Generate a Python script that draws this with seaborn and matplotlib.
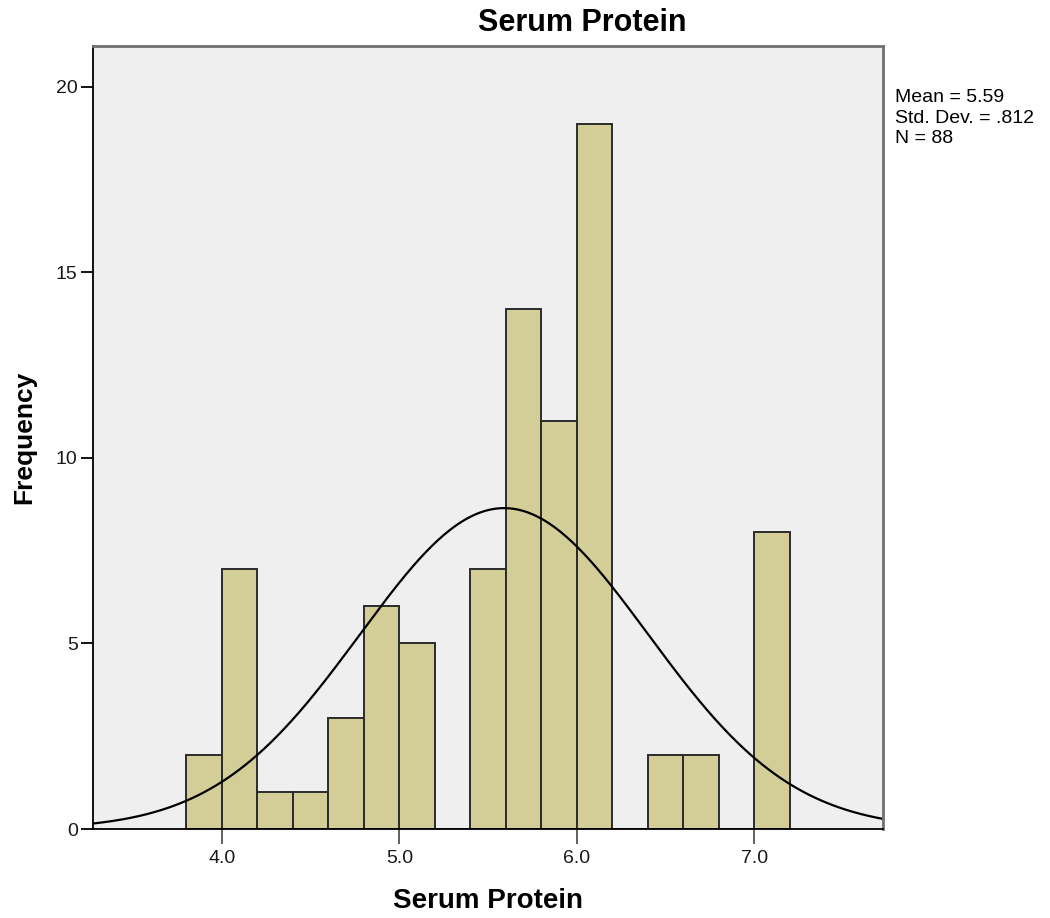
import numpy as np
import matplotlib
matplotlib.use("Agg")
import matplotlib.pyplot as plt
import seaborn as sns

# Histogram of serum protein values (bin width 0.2)
bin_edges = [3.8, 4.0, 4.2, 4.4, 4.6, 4.8, 5.0, 5.2, 5.4, 5.6, 5.8, 6.0, 6.2, 6.4, 6.6, 6.8, 7.0, 7.2]
counts = [2, 7, 1, 1, 3, 6, 5, 0, 7, 14, 11, 19, 0, 2, 2, 0, 8]
mean_val = 5.59
std_val = 0.812
n_obs = 88
x_ticks = [4.0, 5.0, 6.0, 7.0]
y_ticks = [0, 5, 10, 15, 20]

sns.set_style("white")
plt.rcParams["font.family"] = ["Liberation Sans", "DejaVu Sans"]
plt.rcParams["text.color"] = "black"
plt.rcParams["axes.labelcolor"] = "black"

fig = plt.figure(figsize=(10.5, 9.18), dpi=100)
ax_w = (883 - 93) / 1050
ax = fig.add_axes([93 / 1050, 1 - 829 / 918, ax_w, (829 - 46) / 918])
ax.set_facecolor("#EFEFEF")

centers = [(a + b) / 2 for a, b in zip(bin_edges[:-1], bin_edges[1:])]
sns.histplot(x=centers, weights=counts, bins=bin_edges, ax=ax,
             color="#D3CE97", edgecolor="#2b2b2b", linewidth=1.4, alpha=1.0)

# Fitted normal curve scaled to counts
binw = bin_edges[1] - bin_edges[0]
xs = np.linspace(3.274, 7.725, 400)
ys = n_obs * binw / (std_val * np.sqrt(2 * np.pi)) * np.exp(-0.5 * ((xs - mean_val) / std_val) ** 2)
ax.plot(xs, ys, color="black", lw=1.6)

ax.set_xlim(3.274, 7.725)
ax.set_ylim(0, 21.1)
ax.set_xticks(x_ticks)
ax.set_xticklabels([f"{v:.1f}" for v in x_ticks])
ax.set_yticks(y_ticks)
ax.tick_params(axis="x", direction="out", length=11, width=1.3, color="#555555",
               labelsize=14, pad=4, bottom=True, labelcolor="#1a1a1a")
ax.tick_params(axis="y", direction="out", length=9, width=1.3, color="black",
               labelsize=14, pad=2, left=True, labelcolor="#1a1a1a")

for side in ["left", "bottom"]:
    ax.spines[side].set_color("black")
    ax.spines[side].set_linewidth(1.3)
for side in ["top", "right"]:
    ax.spines[side].set_color("#707070")
    ax.spines[side].set_linewidth(2)

ax.set_xlabel("Serum Protein", fontsize=20, fontweight="bold", labelpad=15)
ax.set_ylabel("Frequency", fontsize=19, fontweight="bold")
ax.yaxis.label.set_va("center")
ax.yaxis.set_label_coords((24 - 93) / 790, 0.5)

fig.text(582 / 1050, 1 - 23 / 918, "Serum Protein", ha="center", va="center",
         fontsize=22, fontweight="bold")
fig.text(895 / 1050, 1 - 89 / 918,
         f"Mean = {mean_val:.2f}\nStd. Dev. = .{int(round(std_val * 1000))}\nN = {n_obs}",
         ha="left", va="top", fontsize=14, linespacing=1.28)

fig.savefig("out.png", dpi=100)
